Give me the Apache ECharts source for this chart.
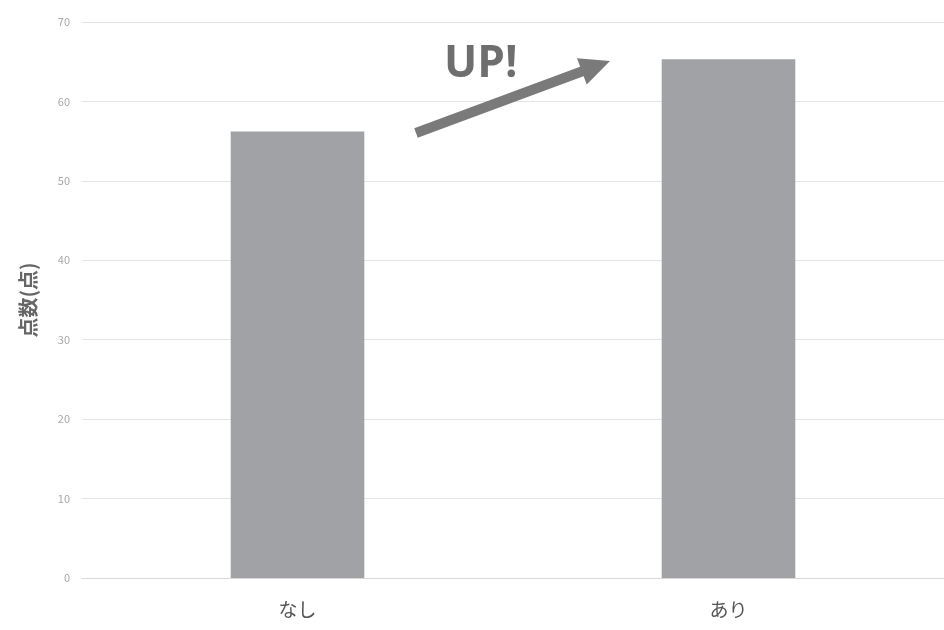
<!DOCTYPE html>
<html>
<head>
<meta charset="utf-8">
<script src="https://cdn.jsdelivr.net/npm/echarts@6/dist/echarts.min.js"></script>
<style>
  html, body { margin: 0; padding: 0; background: #ffffff; }
  #chart { width: 944px; height: 630px; }
</style>
</head>
<body>
<div id="chart"></div>
<script>
// Score with / without the method
const categories = ['なし', 'あり'];
const scores = [56.2, 65.3];
const yTicks = { min: 0, max: 70, interval: 10 };
const yAxisName = '点数(点)';
const calloutText = 'UP!';

const chart = echarts.init(document.getElementById('chart'), null, { renderer: 'canvas' });

const FONT = '"Noto Sans CJK JP", "Noto Sans", sans-serif';

chart.setOption({
  animation: false,
  backgroundColor: '#ffffff',
  grid: { left: 82, right: 0, top: 22, bottom: 52, containLabel: false },
  xAxis: {
    type: 'category',
    data: categories,
    axisLine: { lineStyle: { color: '#d9d9d9', width: 1 } },
    axisTick: { show: false },
    axisLabel: { color: '#555555', fontSize: 19, fontFamily: FONT, margin: 22 }
  },
  yAxis: {
    type: 'value',
    min: yTicks.min,
    max: yTicks.max,
    interval: yTicks.interval,
    name: yAxisName,
    nameLocation: 'middle',
    nameGap: 44,
    nameRotate: 90,
    nameTextStyle: { color: '#666666', fontSize: 20, fontWeight: 'bold', fontFamily: FONT },
    axisLine: { show: false },
    axisTick: { show: false },
    axisLabel: { color: '#a8a8a8', fontSize: 11, fontFamily: FONT, margin: 12 },
    splitLine: { lineStyle: { color: '#e4e4e4', width: 1 } }
  },
  series: [{
    type: 'bar',
    data: scores,
    barWidth: '31%',
    itemStyle: { color: '#a1a2a6' }
  }]
});

// Rising arrow with its "UP!" caption between the two bars
const tip = [610, 61];
const start = [416, 133];
const dx = tip[0] - start[0], dy = tip[1] - start[1];
const len = Math.hypot(dx, dy);
const ux = dx / len, uy = dy / len;
const nx = -uy, ny = ux;
const headLen = 30, headHalf = 14;
const base = [tip[0] - headLen * ux, tip[1] - headLen * uy];

chart.setOption({
  graphic: [
    {
      type: 'line',
      shape: { x1: start[0], y1: start[1], x2: base[0] + 2 * ux, y2: base[1] + 2 * uy },
      style: { stroke: '#7a7a7a', lineWidth: 10 },
      z: 100
    },
    {
      type: 'polygon',
      shape: {
        points: [
          tip,
          [base[0] + headHalf * nx, base[1] + headHalf * ny],
          [base[0] - headHalf * nx, base[1] - headHalf * ny]
        ]
      },
      style: { fill: '#7a7a7a' },
      z: 100
    },
    {
      type: 'text',
      left: 444,
      top: 42,
      style: {
        text: calloutText,
        fill: '#6e6e6e',
        font: 'bold 44px "Open Sans", "Noto Sans", sans-serif'
      },
      z: 100
    }
  ]
});
</script>
</body>
</html>
